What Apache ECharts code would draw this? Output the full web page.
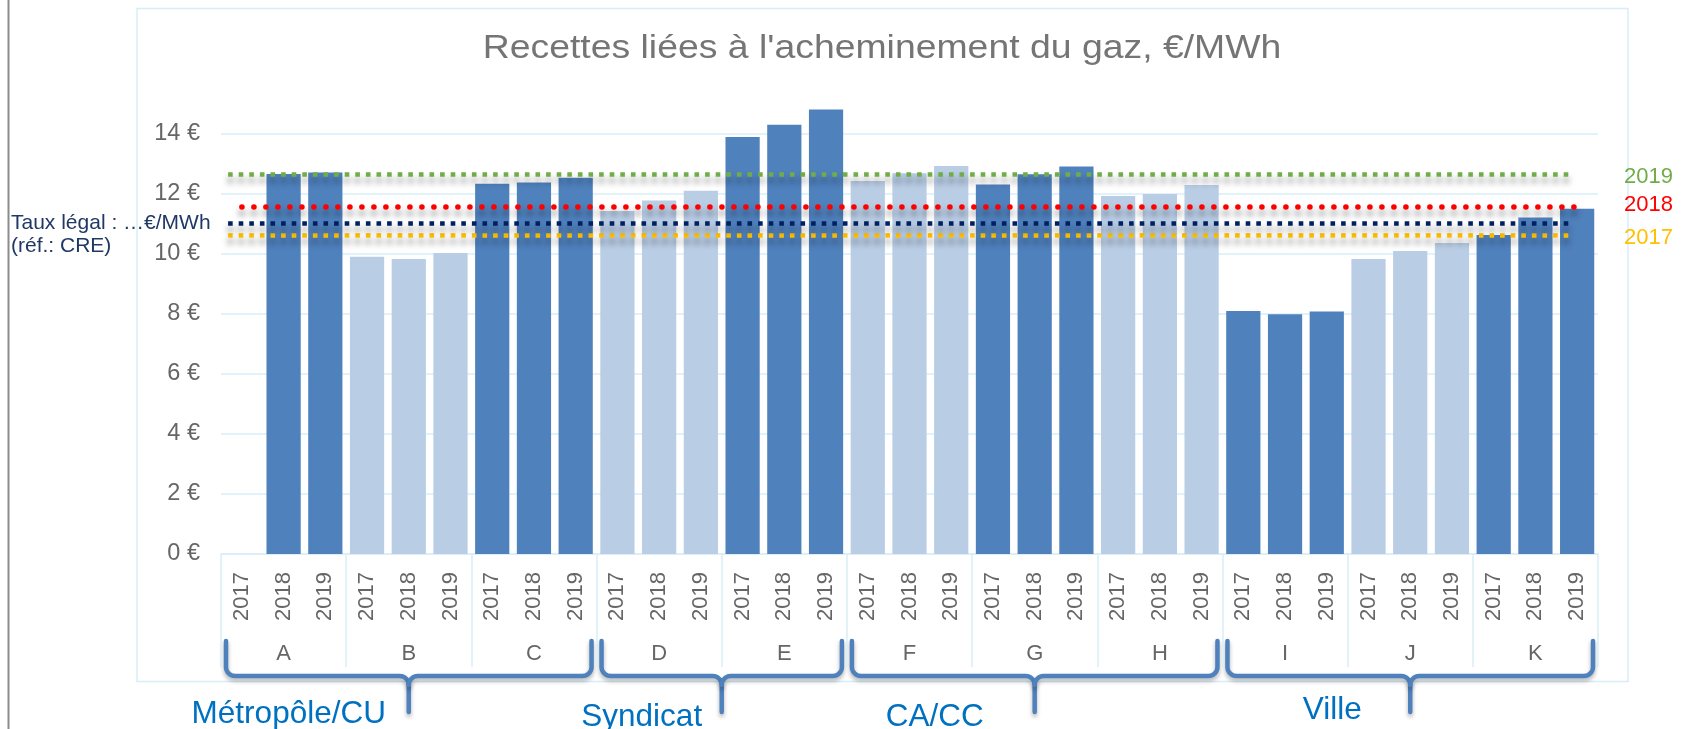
<!DOCTYPE html>
<html>
<head>
<meta charset="utf-8">
<script src="https://cdn.jsdelivr.net/npm/echarts@6/dist/echarts.min.js"></script>
<style>
  html, body { margin: 0; padding: 0; background: #fff; }
  #chart { width: 1687px; height: 729px; }
</style>
</head>
<body>
<div id="chart"></div>
<script>
// --- data ---
const groups = ['A', 'B', 'C', 'D', 'E', 'F', 'G', 'H', 'I', 'J', 'K'];
const years = ['2017', '2018', '2019'];
const v2017 = [null, 9.91, 12.34, 11.43, 13.9, 12.43, 12.32, 11.93, 8.10, 9.83, 10.63];
const v2018 = [12.67, 9.83, 12.38, 11.78, 14.31, 12.69, 12.66, 12.0, 7.99, 10.1, 11.22];
const v2019 = [12.72, 10.03, 12.54, 12.11, 14.82, 12.93, 12.92, 12.3, 8.08, 10.37, 11.51];
const families = ['Métropôle/CU', 'Syndicat', 'CA/CC', 'Ville'];
const familySize = [3, 2, 3, 3]; // groups per family
const refYears = ['2019', '2018', '2017'];
const refValues = [12.66, 11.58, 10.63];
const legalValue = 11.04;
const legalLabel = 'Taux légal : …€/MWh\n(réf.: CRE)';
const titleText = "Recettes liées à l'acheminement du gaz, €/MWh";

const FONT = 'Arial, "Liberation Sans", sans-serif';
const darkBlue = '#4f81bd';
const lightBlue = '#b9cde5';
const gridBlue = '#d7eef8';
const refColors = { '2019': '#70ad47', '2018': '#ff0000', '2017': '#ffc000' };
const legalColor = '#002060';

const barData = [];
groups.forEach((g, i) => barData.push(v2017[i], v2018[i], v2019[i]));
const yearLabels = groups.flatMap(() => years);

const lineShadow = { shadowColor: 'rgba(0,0,0,0.5)', shadowBlur: 6, shadowOffsetY: 6 };
const squareDots = (color) => ({ color, width: 4.5, type: [4.6, 6], cap: 'butt', ...lineShadow });
const roundDots = (color) => ({ color, width: 5.5, type: [0.1, 11.9], cap: 'round', ...lineShadow });

const refLine = (year, value) => {
  const isRound = year === '2018';
  return [
    {
      coord: [isRound ? 0.5 : 0.17, value],
      lineStyle: isRound ? roundDots(refColors[year]) : squareDots(refColors[year]),
    },
    { coord: [isRound ? 32.5 : 32.42, value] },
  ];
};

const chart = echarts.init(document.getElementById('chart'));

const option = {
  animation: false,
  grid: { left: 221, right: 89, top: 104, bottom: 175 },
  xAxis: [
    {
      type: 'category',
      data: yearLabels,
      position: 'bottom',
      axisLine: { lineStyle: { color: gridBlue, width: 1.5 } },
      axisTick: { show: false },
      axisLabel: { interval: 0, rotate: 90, margin: 18, fontSize: 22, color: '#666', fontFamily: FONT },
    },
    {
      type: 'category',
      data: groups,
      position: 'bottom',
      axisLine: { show: false },
      axisTick: { show: true, interval: 0, length: 113, lineStyle: { color: gridBlue, width: 1.5 } },
      axisLabel: { interval: 0, margin: 89, fontSize: 22, color: '#666', fontFamily: FONT },
    },
    { type: 'value', min: 0, max: 33, show: false },
  ],
  yAxis: {
    type: 'value',
    min: 0, max: 15, interval: 2,
    axisLine: { show: false },
    axisTick: { show: false },
    axisLabel: {
      formatter: (v) => (v % 2 === 0 ? `${v} €` : ''),
      fontSize: 23.5, color: '#666', margin: 21, fontFamily: FONT, showMaxLabel: false,
    },
    splitLine: { showMaxLine: false, lineStyle: { color: gridBlue, width: 1.5 } },
  },
  series: [
    {
      type: 'bar',
      xAxisIndex: 0,
      data: barData,
      barWidth: '82%',
      itemStyle: { color: (p) => (Math.floor(p.dataIndex / 3) % 2 === 0 ? darkBlue : lightBlue) },
    },
    {
      type: 'line',
      xAxisIndex: 2,
      data: [],
      silent: true,
      markLine: {
        symbol: 'none',
        silent: true,
        animation: false,
        label: { show: false },
        data: [
          ...refYears.map((y, i) => refLine(y, refValues[i])),
          [
            { coord: [0.17, legalValue], lineStyle: squareDots(legalColor) },
            { coord: [32.42, legalValue] },
          ],
        ],
      },
    },
  ],
};

chart.setOption(option);

// annotations placed from the axes
const px = (i) => chart.convertToPixel({ xAxisIndex: 2 }, i);
const py = (v) => chart.convertToPixel({ yAxisIndex: 0 }, v);
const axisY = py(0);
const labelShift = [-120, -80, -100, -78];
const labelDy = [0, 3, 3, -4];
const refLabelDy = { '2019': 3, '2018': -1.5, '2017': 3 };

const arc = (cx, cy, r, a0, a1) => {
  const pts = [];
  for (let s = 0; s <= 8; s++) {
    const a = (a0 + (a1 - a0) * s / 8) * Math.PI / 180;
    pts.push([cx + r * Math.cos(a), cy + r * Math.sin(a)]);
  }
  return pts;
};

const braceStyle = {
  fill: null, stroke: darkBlue, lineWidth: 4.5, lineCap: 'round', lineJoin: 'round',
  shadowColor: 'rgba(0,0,0,0.3)', shadowBlur: 4, shadowOffsetY: 3,
};

const graphics = [
  { type: 'line', shape: { x1: 8.5, y1: 0, x2: 8.5, y2: 729 }, style: { stroke: '#8c8c8c', lineWidth: 2 } },
  { type: 'rect', shape: { x: 137, y: 8.5, width: 1491, height: 673 }, style: { fill: null, stroke: gridBlue, lineWidth: 1.5 } },
  {
    type: 'text', x: 882, y: 49, scaleX: 1.15,
    style: { text: titleText, fontSize: 32.5, fontFamily: FONT, fill: '#757575', align: 'center', verticalAlign: 'middle' },
  },
  {
    type: 'text', x: 11, y: py(legalValue) - 11,
    style: { text: legalLabel, fontSize: 21, fontFamily: FONT, fill: '#1f3864', lineHeight: 23, align: 'left', verticalAlign: 'top' },
  },
];

refYears.forEach((y, i) => {
  graphics.push({
    type: 'text', x: 1624, y: py(refValues[i]) + refLabelDy[y],
    style: { text: y, fontSize: 22, fontFamily: FONT, fill: refColors[y], align: 'left', verticalAlign: 'middle' },
  });
});

let g0 = 0;
families.forEach((name, k) => {
  const g1 = g0 + familySize[k];
  const left = px(g0 * 3), right = px(g1 * 3);
  const x0 = left + 5, x1 = right - 5, xc = (left + right) / 2;
  const yT = axisY + 87, yM = axisY + 122, yB = axisY + 158, r = 9;
  const leftHalf = [[x0, yT], ...arc(x0 + r, yM - r, r, 180, 90), ...arc(xc - r, yM + r, r, -90, 0), [xc, yB]];
  const rightHalf = [...arc(xc + r, yM + r, r, 180, 270), ...arc(x1 - r, yM - r, r, 90, 0), [x1, yT]];
  graphics.push({ type: 'polyline', shape: { points: leftHalf }, style: braceStyle });
  graphics.push({ type: 'polyline', shape: { points: rightHalf }, style: braceStyle });
  graphics.push({
    type: 'text', x: xc + labelShift[k], y: axisY + 171 - 10.5 + labelDy[k],
    style: { text: name, fontSize: 31.5, fontFamily: FONT, fill: '#0070c0', align: 'center', verticalAlign: 'middle' },
  });
  g0 = g1;
});

chart.setOption({ graphic: graphics });
</script>
</body>
</html>
